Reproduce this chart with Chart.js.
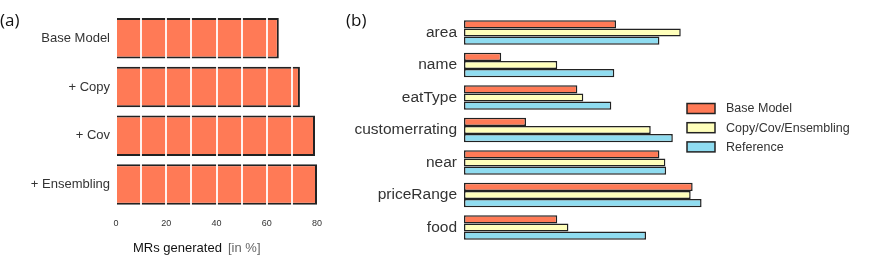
<!DOCTYPE html>
<html>
<head>
<meta charset="utf-8">
<script src="https://cdn.jsdelivr.net/npm/chart.js@4/dist/chart.umd.min.js"></script>
<style>
  body { margin: 0; background: #fff; }
  #wrap { position: relative; width: 872px; height: 260px; }
  canvas { position: absolute; top: 0; }
</style>
</head>
<body>
<div id="wrap">
  <canvas id="left" width="340" height="260" style="left:0"></canvas>
  <canvas id="right" width="532" height="260" style="left:340px"></canvas>
</div>
<script>
// panel (a)
const modelLabels = ["Base Model", "+ Copy", "+ Cov", "+ Ensembling"];
const mrsGenerated = [64.8, 73.2, 79.2, 80];

// panel (b)
const slotLabels = ["area", "name", "eatType", "customerrating", "near", "priceRange", "food"];
const baseModel = [61.3, 15.0, 45.7, 25.0, 78.8, 92.2, 37.6];
const copyCovEns = [87.4, 37.6, 48.1, 75.3, 81.2, 91.4, 42.1];
const reference = [78.8, 60.6, 59.4, 84.2, 81.5, 95.8, 73.4];

const FONT = "'Liberation Sans', Arial, sans-serif";
const ORANGE = "#ff7a56";
const YELLOW = "#ffffbb";
const BLUE = "#8fdcf0";
const EDGE = "#222";

Chart.defaults.font.family = FONT;
Chart.defaults.animation = false;

// text bits for panel (a): letter + axis title
const panelA = {
  id: "panelA",
  afterDraw(chart) {
    const c = chart.ctx;
    c.save();
    c.textBaseline = "alphabetic";
    c.fillStyle = "#111";
    c.font = "17px 'Open Sans', sans-serif";
    c.fillText("(a)", 0, 26);
    c.font = "13px " + FONT;
    c.fillStyle = "#111";
    c.fillText("MRs generated", 133, 252);
    c.fillStyle = "#666";
    c.fillText("[in %]", 228, 252);
    c.restore();
  }
};

new Chart(document.getElementById("left"), {
  type: "bar",
  data: {
    labels: modelLabels,
    datasets: [{
      data: mrsGenerated,
      backgroundColor: ORANGE,
      borderColor: EDGE,
      borderWidth: 2,
      barPercentage: 0.83,
      categoryPercentage: 1,
      clip: 4
    }]
  },
  options: {
    indexAxis: "y",
    responsive: false,
    layout: { padding: { top: 11, right: 23, left: 0, bottom: 0 } },
    plugins: { legend: { display: false }, tooltip: { enabled: false } },
    scales: {
      y: {
        grid: { display: false, drawTicks: false },
        border: { display: false },
        ticks: { color: "#333", font: { size: 13 }, padding: 6 },
        afterFit: (s) => { s.width = 116; }
      },
      x: {
        min: 0,
        max: 80,
        border: { display: false },
        grid: {
          z: 1,
          drawTicks: false,
          lineWidth: 2,
          // white lines over the bars, but leave the edges alone
          color: (ctx) => (ctx.tick && (ctx.tick.value === 80 || ctx.tick.value === 0)
            ? "rgba(0,0,0,0)" : "rgba(255,255,255,0.9)")
        },
        ticks: {
          stepSize: 10,
          color: "#333",
          font: { size: 9 },
          padding: 9,
          maxRotation: 0,
          autoSkip: false,
          callback: (v) => (v % 20 === 0 ? v : "")
        },
        afterFit: (s) => { s.height = 51; }
      }
    }
  },
  plugins: [panelA]
});

// panel (b): letter + legend
const panelB = {
  id: "panelB",
  afterDraw(chart) {
    const c = chart.ctx;
    c.save();
    c.fillStyle = "#111";
    c.font = "17px 'Open Sans', sans-serif";
    c.textBaseline = "alphabetic";
    c.fillText("(b)", 6, 26);
    c.font = "12.5px " + FONT;
    c.textBaseline = "middle";
    chart.data.datasets.forEach((ds, i) => {
      const y = 103.5 + i * 19.2;
      c.fillStyle = ds.backgroundColor;
      c.fillRect(347, y, 28, 10);
      c.strokeStyle = EDGE;
      c.lineWidth = 1.5;
      c.strokeRect(347, y, 28, 10);
      c.fillStyle = "#333";
      c.fillText(ds.label, 386, y + 5.5);
    });
    c.restore();
  }
};

const barStyle = { borderColor: EDGE, borderWidth: 1.5, borderSkipped: false, barPercentage: 1, categoryPercentage: 0.75 };

new Chart(document.getElementById("right"), {
  type: "bar",
  data: {
    labels: slotLabels,
    datasets: [
      Object.assign({ label: "Base Model", data: baseModel, backgroundColor: ORANGE }, barStyle),
      Object.assign({ label: "Copy/Cov/Ensembling", data: copyCovEns, backgroundColor: YELLOW }, barStyle),
      Object.assign({ label: "Reference", data: reference, backgroundColor: BLUE }, barStyle)
    ]
  },
  options: {
    indexAxis: "y",
    responsive: false,
    layout: { padding: { top: 15, bottom: 15, right: 160, left: 0 } },
    plugins: { legend: { display: false }, tooltip: { enabled: false } },
    scales: {
      y: {
        grid: { display: false, drawTicks: false },
        border: { display: false },
        ticks: { color: "#333", font: { size: 15.5 }, padding: 7 },
        afterFit: (s) => { s.width = 124; }
      },
      x: { display: false, min: 0, max: 100 }
    }
  },
  plugins: [panelB]
});
</script>
</body>
</html>
